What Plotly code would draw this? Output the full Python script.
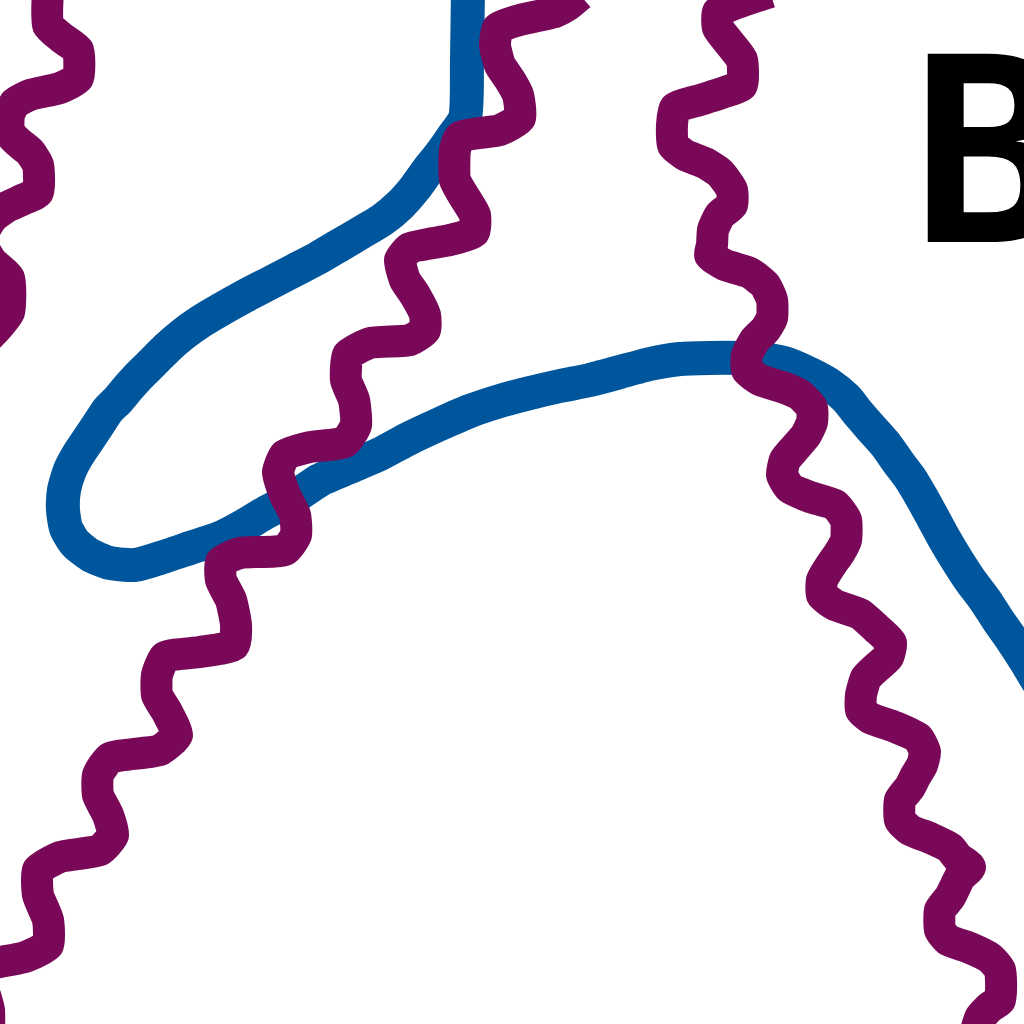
import plotly.graph_objs as go

# Blue curve (pixel coordinates, y measured downwards)
blue_x = [468, 467, 465, 452, 440, 428, 415, 400, 382, 362, 340, 318, 295, 270, 245, 220, 200, 182,
          167, 157, 147, 137, 128, 118, 108, 98, 88, 78, 70, 64, 63, 66, 75, 90, 110, 135, 160, 190,
          220, 245, 265, 290, 320, 350, 380, 410, 440, 470, 500, 530, 560, 590, 620, 650, 680, 710,
          740, 765, 790, 812, 830, 846, 858, 871, 886, 898, 910, 922, 933, 945, 957, 970, 985, 998,
          1012, 1025, 1040]
blue_y = [-10, 60, 118, 138, 155, 170, 188, 205, 220, 232, 245, 258, 270, 283, 296, 310, 322, 335,
          348, 358, 368, 378, 388, 400, 410, 425, 440, 455, 470, 490, 510, 528, 543, 555, 563, 565,
          558, 548, 538, 525, 513, 500, 480, 467, 454, 438, 424, 411, 401, 393, 386, 380, 372, 364,
          359, 358, 358, 359, 365, 375, 385, 398, 413, 428, 445, 462, 478, 498, 518, 540, 560, 580,
          600, 620, 640, 660, 685]

# Purple wavy lines
mid_x = [580, 568, 555, 520, 498, 495, 500, 510, 518, 520, 500, 460, 455, 455, 465, 475, 474, 450,
         410, 400, 405, 415, 425, 425, 410, 370, 348, 346, 354, 356, 345, 310, 285, 278, 285, 295,
         296, 285, 240, 221, 221, 231, 236, 234, 200, 165, 157, 157, 167, 177, 160, 110, 98, 98,
         108, 113, 100, 60, 38, 38, 48, 48, 25, 0, -20]
mid_y = [-5, 5, 12, 20, 28, 45, 65, 80, 95, 118, 130, 137, 150, 180, 198, 215, 232, 240,
         248, 260, 280, 295, 315, 330, 340, 343, 355, 380, 400, 425, 442, 447, 455, 472, 495, 515,
         535, 550, 553, 562, 580, 600, 625, 645, 652, 657, 675, 695, 712, 735, 750, 758, 775, 795,
         815, 835, 850, 857, 870, 895, 920, 945, 957, 962, 965]

right_x = [770, 740, 718, 718, 727, 735, 742, 742, 725, 700, 675, 672, 673, 685, 705, 720, 732, 732,
           720, 713, 712, 710, 725, 750, 765, 772, 772, 765, 755, 747, 747, 760, 785, 800, 812, 812,
           806, 795, 785, 782, 790, 810, 835, 846, 846, 840, 831, 822, 822, 835, 860, 876, 891, 888,
           876, 866, 861, 861, 870, 895, 918, 925, 922, 915, 910, 900, 900, 910, 930, 950, 958, 970,
           960, 955, 950, 940, 940, 948, 970, 990, 1000, 1000, 990, 980, 975]
right_y = [-8, 2, 12, 28, 40, 50, 60, 85, 92, 100, 108, 125, 145, 155, 163, 173, 190, 205,
           215, 230, 245, 255, 265, 273, 285, 300, 318, 330, 340, 355, 370, 380, 388, 395, 408, 422,
           435, 448, 460, 475, 488, 497, 505, 520, 540, 552, 565, 580, 595, 605, 614, 628, 643, 657,
           668, 678, 695, 710, 718, 727, 738, 752, 765, 777, 787, 800, 820, 830, 838, 848, 858, 867,
           877, 887, 897, 910, 930, 940, 948, 958, 970, 1000, 1007, 1018, 1035]

left_x = [48, 48, 62, 78, 78, 60, 30, 15, 9, 9, 18, 30, 38, 38, 22, 5, -8, -20, -8, 9, 9, -5, -20]
left_y = [-10, 25, 38, 50, 78, 88, 95, 103, 115, 132, 142, 152, 165, 192, 200, 208, 218, 240,
          262, 278, 312, 330, 345]

corner_x = [-15, -11, -11]
corner_y = [995, 1010, 1040]

label = 'B'

blue = '#00569D'
purple = '#7A0858'

data = [go.Scatter(x=blue_x, y=blue_y, mode='lines', line=dict(color=blue, width=34, shape='spline', smoothing=0.6))]
for xs, ys in [(mid_x, mid_y), (right_x, right_y), (left_x, left_y), (corner_x, corner_y)]:
    data.append(go.Scatter(x=xs, y=ys, mode='lines',
                           line=dict(color=purple, width=32, shape='spline', smoothing=0.5)))

layout = go.Layout(width=1024, height=1024, margin=dict(l=0, r=0, t=0, b=0),
                   paper_bgcolor='white', plot_bgcolor='white', showlegend=False,
                   xaxis=dict(range=[0, 1024], visible=False, fixedrange=True),
                   yaxis=dict(range=[1024, 0], visible=False, fixedrange=True))

fig = go.Figure(data=data, layout=layout)

# Big letter on the right, partly cut by the edge
fig.add_annotation(x=910, y=305, xref='x', yref='y', text=label, showarrow=False,
                   xanchor='left', yanchor='bottom',
                   font=dict(family='DejaVu Sans Mono', size=258, color='black', weight='bold'))

fig.write_html("out.html", config={'displayModeBar': False},
               post_script="document.body.style.margin='0';")
